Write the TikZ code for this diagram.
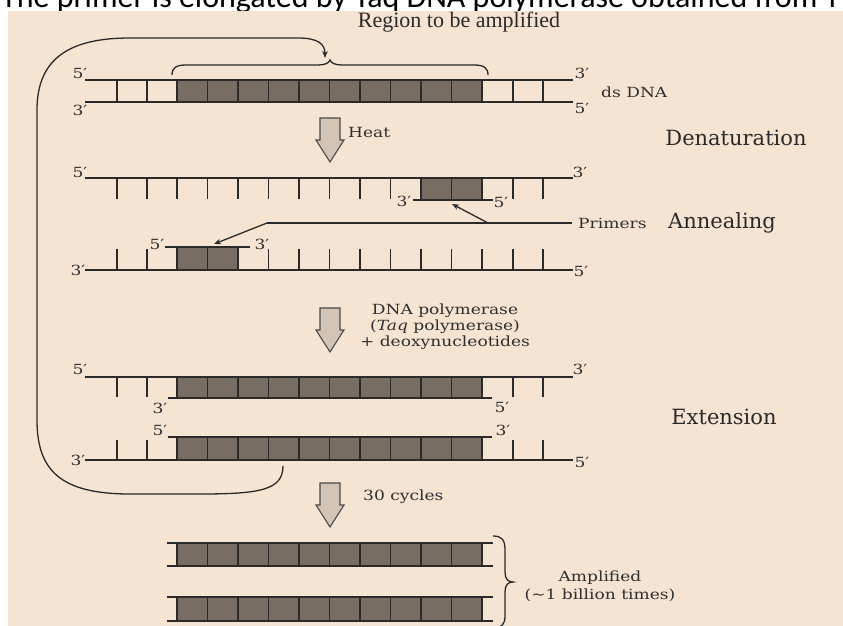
\documentclass[tikz,border=0pt]{standalone}
\usepackage{fontspec}
\setmainfont{DejaVu Serif}
\newfontfamily\lblfont[FakeStretch=1.22]{DejaVu Serif}
\newfontfamily\stagefont{DejaVu Serif}
\newfontfamily\capfont{Liberation Serif}
\newfontfamily\hdfont{Carlito}
\usetikzlibrary{arrows.meta}

\definecolor{paper}{HTML}{F5E4D2}
\definecolor{ink}{HTML}{2A2A2A}
\definecolor{cell}{HTML}{776D63}
\definecolor{arrowfill}{HTML}{D4C4B4}
\definecolor{labelink}{HTML}{2F2F2F}

\tikzset{
  strand/.style={draw=ink, line width=1.6pt},
  rung/.style={draw=ink, line width=1.4pt},
  cellbox/.style={fill=cell, draw=ink, line width=1.4pt},
  tag/.style={font=\lblfont\fontsize{14}{16}\selectfont, text=labelink, inner sep=0pt},
  stage/.style={font=\stagefont\fontsize{21}{24}\selectfont, text=ink, inner sep=0pt},
  loopline/.style={draw=ink, line width=1.3pt},
  tipped/.style={-{Stealth[length=7pt,width=5.5pt]}},
  blockarrow/.pic={
    \draw[draw=ink!85, fill=arrowfill, line width=1.1pt, line join=miter]
      (-10,0) -- (10,0) -- (10,22) -- (14,22) -- (0,44) -- (-14,22) -- (-10,22) -- cycle;
  }
}

\begin{document}
\begin{tikzpicture}[x=1pt,y=-1pt]
\useasboundingbox (0,0) rectangle (843,626);
\clip (0,0) rectangle (843,626);
\fill[white] (0,0) rectangle (843,626);

% page caption running above the figure panel
\node[anchor=base west, inner sep=0pt, font=\hdfont\fontsize{32}{36}\selectfont, text=black]
  (headline) at (1,7.5) {The primer is elongated by Taq DNA polymerase obtained from T};

% figure panel
\fill[paper] (8,11) rectangle (843,626);

\node[font=\capfont\fontsize{22}{24}\selectfont, text=ink, inner sep=0pt] (region) at (459,22) {Region to be amplified};

% ---------- double-stranded DNA ----------
\draw[strand] (85,80) -- (573,80);
\draw[strand] (85,102) -- (573,102);
\foreach \x in {117,147,513,543} \draw[rung] (\x,80) -- (\x,102);
\foreach \k in {0,...,9} \draw[cellbox] ({177+\k*30.5},80) rectangle ++(30.5,22);
\node[tag] (d1a) at (80,73) {5′};
\node[tag] (d1b) at (80,110) {3′};
\node[tag] (d1c) at (582,73) {3′};
\node[tag] (d1d) at (582,108) {5′};
\node[tag, anchor=west] (dsdna) at (601,92) {ds DNA};

% brace over the target region
\draw[loopline] (172,75) .. controls (172,68) and (176,65) .. (186,65) -- (318,65)
  .. controls (325,65) and (329,63) .. (330,60) .. controls (331,63) and (335,65) .. (342,65)
  -- (474,65) .. controls (484,65) and (488,68) .. (488,75);

% Heat
\pic at (330,118) {blockarrow};
\node[tag, anchor=west] (heat) at (348,132) {Heat};
\node[stage] (denat) at (736,138) {Denaturation};

% ---------- single strand with primer (upper) ----------
\draw[strand] (85,178) -- (573,178);
\foreach \x in {117,147,177,207.5,238,268.5,299,329.5,360,390.5,513,543} \draw[rung] (\x,178) -- (\x,199);
\draw[strand] (413,200) -- (493,200);
\foreach \k in {8,9} \draw[cellbox] ({177+\k*30.5},178) rectangle ++(30.5,22);
\node[tag] (s2a) at (80,172) {5′};
\node[tag] (s2b) at (580,172) {3′};
\node[tag] (s2c) at (404,201) {3′};
\node[tag] (s2d) at (501,202) {5′};

% ---------- single strand with primer (lower) ----------
\draw[strand] (85,270) -- (573,270);
\foreach \x in {117,147,268.5,299,329.5,360,390.5,421,451.5,482,513,543} \draw[rung] (\x,270) -- (\x,249);
\draw[strand] (165,247) -- (250,247);
\foreach \k in {0,1} \draw[cellbox] ({177+\k*30.5},247) rectangle ++(30.5,23);
\node[tag] (s3a) at (78,270) {3′};
\node[tag] (s3b) at (581,271) {5′};
\node[tag] (s3c) at (157,244) {5′};
\node[tag] (s3d) at (262,244) {3′};

% primer pointers
\node[tag, anchor=west] (primers) at (578,223) {Primers};
\node[stage] (anneal) at (722,223) {Annealing};
\coordinate (pline) at (572,223);
\coordinate (pj) at (267,223);
\coordinate (pk) at (488,223);
\coordinate (tipA) at (214,244);
\coordinate (tipB) at (452,204);
\draw[loopline] (pline) -- (pj);
\draw[loopline, tipped] (pj) -- (tipA);
\draw[loopline, tipped] (pk) -- (tipB);

% DNA polymerase
\pic at (330,308) {blockarrow};
\node[tag, align=center] (poly) at (445,327)
  {DNA polymerase\\(\textit{Taq} polymerase)\\+ deoxynucleotides};

% ---------- extension (upper duplex) ----------
\draw[strand] (85,377) -- (573,377);
\foreach \x in {117,147,513,543} \draw[rung] (\x,377) -- (\x,397);
\draw[strand] (168,398) -- (492,398);
\foreach \k in {0,...,9} \draw[cellbox] ({177+\k*30.5},377) rectangle ++(30.5,21);
\node[tag] (e1a) at (80,369) {5′};
\node[tag] (e1b) at (580,369) {3′};
\node[tag] (e1c) at (160,408) {3′};
\node[tag] (e1d) at (502,407) {5′};

% ---------- extension (lower duplex) ----------
\draw[strand] (85,460) -- (573,460);
\foreach \x in {117,147,513,543} \draw[rung] (\x,460) -- (\x,440);
\draw[strand] (168,437) -- (492,437);
\foreach \k in {0,...,9} \draw[cellbox] ({177+\k*30.5},437) rectangle ++(30.5,23);
\node[tag] (e2a) at (78,460) {3′};
\node[tag] (e2b) at (582,462) {5′};
\node[tag] (e2c) at (160,430) {5′};
\node[tag] (e2d) at (503,430) {3′};
\node[stage] (ext) at (724,417) {Extension};

% cycle loop back to the start
\coordinate (loopstart) at (283,466);
\coordinate (looptip) at (325,58);
\draw[loopline, tipped] (loopstart) .. controls (283,490) and (260,494) .. (200,494) -- (130,494)
  .. controls (60,494) and (37,470) .. (37,420) -- (37,110)
  .. controls (37,58) and (70,38) .. (130,38) -- (298,38)
  .. controls (318,38) and (325,44) .. (looptip);

% 30 cycles
\pic at (330,483) {blockarrow};
\node[tag, anchor=west] (cycles) at (363,497) {30 cycles};

% ---------- amplified products ----------
\draw[strand] (167,543) -- (493,543);
\draw[strand] (167,566) -- (493,566);
\foreach \k in {0,...,9} \draw[cellbox] ({177+\k*30.5},543) rectangle ++(30.5,23);
\draw[strand] (167,597) -- (493,597);
\draw[strand] (167,621) -- (493,621);
\foreach \k in {0,...,9} \draw[cellbox] ({177+\k*30.5},597) rectangle ++(30.5,24);

\draw[loopline] (493,536) .. controls (502,536) and (505,540) .. (505,550) -- (505,572)
  .. controls (505,579) and (508,582) .. (513,582) .. controls (508,582) and (505,585) .. (505,592)
  -- (505,616) .. controls (505,624) and (502,628) .. (493,628);
\node[tag] (ampl) at (600,578) {Amplified};
\node[tag] (times) at (600,595) {(\textasciitilde1 billion times)};
\end{tikzpicture}
\end{document}
